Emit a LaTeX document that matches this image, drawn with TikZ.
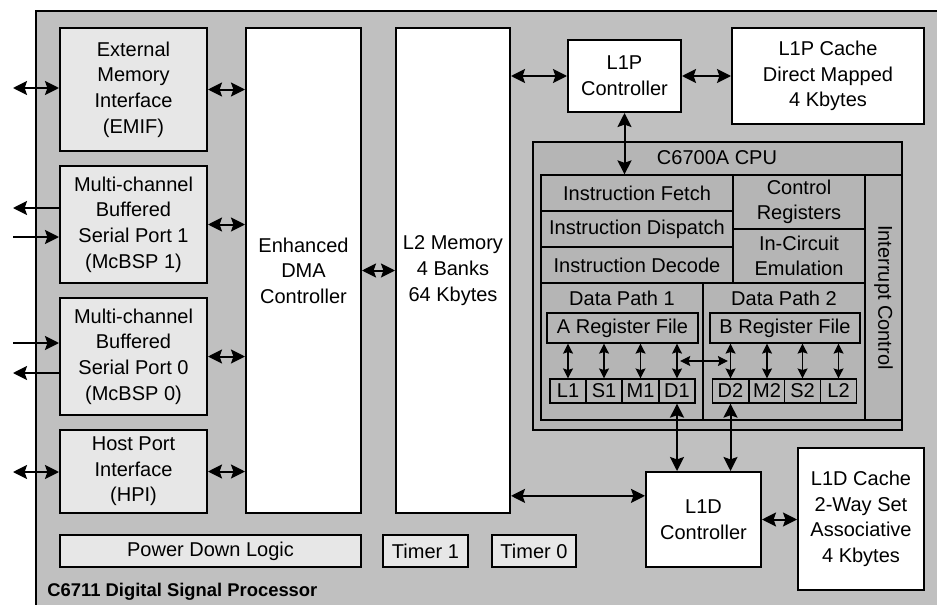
\documentclass[tikz,border=0pt]{standalone}
\usepackage{fontspec}
\setmainfont{Liberation Sans}
\usetikzlibrary{arrows.meta,calc}
\definecolor{cBg}{RGB}{192,192,192}
\definecolor{cLite}{RGB}{231,231,231}
\definecolor{cCpu}{RGB}{181,181,181}

\begin{document}
\begin{tikzpicture}[x=0.5pt,y=-0.5pt,
  blk/.style={draw,line width=1pt,fill=cLite,inner sep=0pt,align=center,
    font=\fontsize{10}{12.8}\selectfont},
  wblk/.style={blk,fill=white},
  cpart/.style={blk,line width=0.6pt,fill=cCpu},
  bus/.style={{Stealth[length=7pt,width=7pt,inset=1.2pt]}-{Stealth[length=7pt,width=7pt,inset=1.2pt]},line width=1pt},
  sig/.style={-{Stealth[length=7pt,width=7pt,inset=1.2pt]},line width=1pt},
  tiny/.style={{Stealth[length=5pt,width=5pt,inset=0.8pt]}-{Stealth[length=5pt,width=5pt,inset=0.8pt]},line width=0.6pt}]
\useasboundingbox (0,0) rectangle (937,605);
\clip (0,0) rectangle (937,605);
\draw[line width=1pt,fill=cBg] (36,11) rectangle (980,650);
\node[font=\bfseries\fontsize{9.2}{11}\selectfont,anchor=base west,inner sep=0pt] (chip) at (47,596) {C6711 Digital Signal Processor};
% peripherals
\node[blk,minimum width=73.5pt,minimum height=61.5pt] (emif) at (133.5,89.5) {External\\Memory\\Interface\\(EMIF)};
\node[blk,minimum width=73.5pt,minimum height=58.5pt] (mcbsp1) at (133.5,224.5) {Multi-channel\\Buffered\\Serial Port 1\\(McBSP 1)};
\node[blk,minimum width=73.5pt,minimum height=58.5pt] (mcbsp0) at (133.5,356.5) {Multi-channel\\Buffered\\Serial Port 0\\(McBSP 0)};
\node[blk,minimum width=73.5pt,minimum height=41.5pt] (hpi) at (133.5,471.5) {Host Port\\Interface\\(HPI)};
\node[wblk,minimum width=57.5pt,minimum height=242.5pt] (dma) at (303.5,270.5) {Enhanced\\DMA\\Controller};
\node[wblk,minimum width=57pt,minimum height=242.5pt] (l2) at (453,270.5) {L2 Memory\\4 Banks\\64 Kbytes};
\node[blk,minimum width=150.5pt,minimum height=16pt] (pwr) at (210.5,551) {Power Down Logic};
\node[blk,minimum width=42.5pt,minimum height=16pt] (tmr1) at (425.5,551) {Timer 1};
\node[blk,minimum width=42pt,minimum height=16pt] (tmr0) at (534,551) {Timer 0};
% caches
\node[wblk,minimum width=56.5pt,minimum height=36pt] (l1pc) at (624.5,76) {L1P\\Controller};
\node[wblk,minimum width=96pt,minimum height=48pt] (l1pcache) at (828,76) {L1P Cache\\Direct Mapped\\4 Kbytes};
\node[wblk,minimum width=57.5pt,minimum height=47.5pt] (l1dc) at (703.5,519.5) {L1D\\Controller};
\node[wblk,minimum width=63pt,minimum height=71pt] (l1dcache) at (861,519) {L1D Cache\\2-Way Set\\Associative\\4 Kbytes};
% cpu
\node[cpart,line width=1pt,minimum width=184.5pt,minimum height=144pt] (cpu) at (717.5,286) {};
\node[font=\fontsize{10}{12}\selectfont] (cpuname) at (717,158) {C6700A CPU};
\node[cpart,minimum width=96pt,minimum height=18pt] (fetch) at (637,193) {Instruction Fetch};
\node[cpart,minimum width=96pt,minimum height=18pt] (dispatch) at (637,229) {Instruction Dispatch};
\node[cpart,minimum width=96pt,minimum height=18pt] (decode) at (637,265) {Instruction Decode};
\node[cpart,minimum width=66pt,minimum height=27pt] (ctrlreg) at (799,202) {Control\\Registers};
\node[cpart,minimum width=66pt,minimum height=27pt] (ice) at (799,256) {In-Circuit\\Emulation};
\node[cpart,minimum width=18.5pt,minimum height=122.5pt] (intctl) at (883.5,297.5) {\rotatebox{-90}{Interrupt Control}};
\node[cpart,minimum width=81pt,minimum height=68.5pt] (dp1) at (622,351.5) {};
\node[cpart,minimum width=81pt,minimum height=68.5pt] (dp2) at (784,351.5) {};
\node[font=\fontsize{10}{12}\selectfont,anchor=north,yshift=-1pt] (dp1name) at (dp1.north) {Data Path 1};
\node[font=\fontsize{10}{12}\selectfont,anchor=north,yshift=-1pt] (dp2name) at (dp2.north) {Data Path 2};
\node[cpart,minimum width=75.5pt,minimum height=15pt] (arf) at (622.5,328) {A Register File};
\node[cpart,minimum width=75pt,minimum height=15pt] (brf) at (785,328) {B Register File};
\foreach \nm/\cx in {L1/568,S1/604,M1/640.5,D1/677,D2/730.5,M2/767,S2/802.5,L2/838.5}
  \node[cpart,minimum width=18pt,minimum height=12pt] (u\nm) at (\cx,391) {\nm};
\foreach \nm in {L1,S1,M1,D1}
  \draw[tiny] (u\nm.north) -- (u\nm.north |- arf.south);
\foreach \nm in {D2,M2,S2,L2}
  \draw[tiny] (u\nm.north) -- (u\nm.north |- brf.south);
\coordinate (xa) at ($(uD1.north)!.5!(uD1.north |- arf.south)$);
\coordinate (xb) at ($(uD2.north)!.5!(uD2.north |- brf.south)$);
\draw[tiny] ([xshift=1.6pt]xa) -- ([xshift=-1.3pt]xb);
% pins
\coordinate (emifpin) at (13,88);
\coordinate (m1tx) at (13,208);
\coordinate (m1rx) at (13,237);
\coordinate (m0rx) at (13,343);
\coordinate (m0tx) at (13,373);
\coordinate (hpipin) at (13,472);
\draw[bus] (emifpin) -- (emif.west |- emifpin);
\draw[sig] (mcbsp1.west |- m1tx) -- (m1tx);
\draw[sig] (m1rx) -- (mcbsp1.west |- m1rx);
\draw[sig] (m0rx) -- (mcbsp0.west |- m0rx);
\draw[sig] (mcbsp0.west |- m0tx) -- (m0tx);
\draw[bus] (hpipin) -- (hpi.west |- hpipin);
% buses
\draw[bus] (emif.east) -- (emif.east -| dma.west);
\draw[bus] (mcbsp1.east) -- (mcbsp1.east -| dma.west);
\draw[bus] (mcbsp0.east) -- (mcbsp0.east -| dma.west);
\draw[bus] (hpi.east) -- (hpi.east -| dma.west);
\draw[bus] (dma.east) -- (dma.east -| l2.west);
\draw[bus] (l1pc.west -| l2.east) -- (l1pc.west);
\draw[bus] (l1pc.east) -- (l1pc.east -| l1pcache.west);
\draw[bus] (l1pc.south) -- (l1pc.south |- fetch.north);
\draw[bus] (l1dc.158 -| l2.east) -- (l1dc.158);
\draw[bus] (l1dc.east) -- (l1dc.east -| l1dcache.west);
\draw[bus] (uD1.south) -- (uD1.south |- l1dc.north);
\draw[bus] (uD2.south) -- (uD2.south |- l1dc.north);
\end{tikzpicture}
\end{document}
